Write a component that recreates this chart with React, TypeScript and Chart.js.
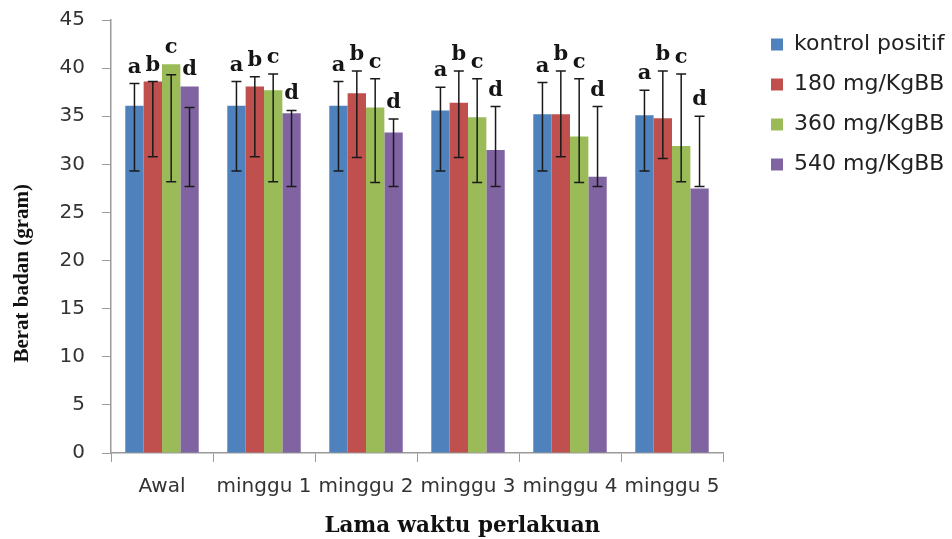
import React, { useEffect, useRef } from 'react';
import { Chart, registerables } from 'chart.js';

Chart.register(...registerables);

// ---------- data ----------
const categories = ['Awal', 'minggu 1', 'minggu 2', 'minggu 3', 'minggu 4', 'minggu 5'];
const seriesNames = ['kontrol positif', '180 mg/KgBB', '360 mg/KgBB', '540 mg/KgBB'];
const seriesColors = ['#4F81BD', '#C0504D', '#9BBB59', '#8064A2'];

const kontrolPositif = [36.1, 36.1, 36.1, 35.6, 35.2, 35.1];
const dosis180 = [38.6, 38.1, 37.4, 36.4, 35.2, 34.8];
const dosis360 = [40.4, 37.7, 35.9, 34.9, 32.9, 31.9];
const dosis540 = [38.1, 35.3, 33.3, 31.5, 28.7, 27.5];

const kontrolHigh = [38.4, 38.6, 38.6, 38.0, 38.5, 37.7];
const kontrolLow = [29.3, 29.3, 29.3, 29.3, 29.3, 29.3];
const dosis180High = [38.6, 39.1, 39.7, 39.7, 39.7, 39.7];
const dosis180Low = [30.8, 30.8, 30.7, 30.7, 30.8, 30.6];
const dosis360High = [39.3, 39.4, 38.9, 38.9, 38.9, 39.4];
const dosis360Low = [28.2, 28.2, 28.1, 28.1, 28.1, 28.2];
const dosis540High = [35.9, 35.6, 34.7, 36.0, 36.0, 35.0];
const dosis540Low = [27.7, 27.7, 27.7, 27.7, 27.7, 27.7];

const significanceLetters = ['a', 'b', 'c', 'd'];

const yMin = 0;
const yMax = 45;
const yStep = 5;

const xTitle = 'Lama waktu perlakuan';
const yTitle = 'Berat badan (gram)';

const seriesValues = [kontrolPositif, dosis180, dosis360, dosis540];
const seriesHigh = [kontrolHigh, dosis180High, dosis360High, dosis540High];
const seriesLow = [kontrolLow, dosis180Low, dosis360Low, dosis540Low];

// ---------- plugin for error bars, letters, titles, legend placement ----------
const extrasPlugin = {
  id: 'extras',
  beforeLayout(chart: any) {
    const lg = chart.legend;
    if (lg && !lg.__patched) {
      const origFit = lg.fit;
      lg.fit = function () {
        origFit.call(this);
        this.width = 229;
      };
      lg.__patched = true;
    }
  },
  afterLayout(chart: any) {
    const lg = chart.legend;
    const ca = chart.chartArea;
    if (lg && ca) {
      lg.left = ca.right + 30;
      lg.right = lg.left + lg.width;
      lg.top = ca.top - 4.5;
      lg.bottom = lg.top + lg.height;
    }
  },
  afterDatasetsDraw(chart: any) {
    const ctx = chart.ctx;
    const yScale = chart.scales.y;
    ctx.save();
    for (let i = 0; i < seriesValues.length; i++) {
      const meta = chart.getDatasetMeta(i);
      meta.data.forEach((el: any, j: number) => {
        const x = el.x;
        const yh = yScale.getPixelForValue(seriesHigh[i][j]);
        const yl = yScale.getPixelForValue(seriesLow[i][j]);
        ctx.strokeStyle = '#1a1a1a';
        ctx.lineWidth = 1.5;
        ctx.beginPath();
        ctx.moveTo(x, yh);
        ctx.lineTo(x, yl);
        ctx.moveTo(x - 5, yh);
        ctx.lineTo(x + 5, yh);
        ctx.moveTo(x - 5, yl);
        ctx.lineTo(x + 5, yl);
        ctx.stroke();
        const topPx = Math.min(el.y, yh);
        ctx.fillStyle = '#151515';
        ctx.font = 'bold 21px "DejaVu Serif"';
        ctx.textAlign = 'center';
        ctx.textBaseline = 'alphabetic';
        ctx.fillText(significanceLetters[i], x, topPx - 11);
      });
    }
    ctx.restore();
  },
  afterDraw(chart: any) {
    const ctx = chart.ctx;
    const ca = chart.chartArea;
    ctx.save();
    ctx.fillStyle = '#111';
    ctx.textAlign = 'center';
    ctx.textBaseline = 'middle';
    ctx.font = 'bold 21.5px "DejaVu Serif"';
    ctx.fillText(xTitle, ca.left + (ca.right - ca.left) * 0.574, ca.bottom + 73);
    ctx.translate(ca.left - 88, ca.top + (ca.bottom - ca.top) * 0.585);
    ctx.rotate(-Math.PI / 2);
    ctx.font = 'bold 21px "Liberation Serif"';
    ctx.fillText(yTitle, 0, 0);
    ctx.restore();
  },
};

export default function App() {
  const canvasRef = useRef<HTMLCanvasElement | null>(null);

  useEffect(() => {
    document.body.style.margin = '0';
    const canvas = canvasRef.current;
    if (!canvas) return;
    const axisColor = '#9a9a9a';
    const tickColor = '#333333';
    const chart = new Chart(canvas, {
      type: 'bar',
      data: {
        labels: categories,
        datasets: seriesNames.map((name, i) => ({
          label: name,
          data: seriesValues[i],
          backgroundColor: seriesColors[i],
          borderWidth: 0,
          categoryPercentage: 0.72,
          barPercentage: 1.0,
        })),
      },
      options: {
        responsive: false,
        animation: false,
        layout: { padding: { top: 20, left: 0, right: 0, bottom: 0 } },
        plugins: {
          tooltip: { enabled: false },
          legend: {
            display: true,
            position: 'right',
            align: 'start',
            labels: {
              boxWidth: 12,
              boxHeight: 12,
              padding: 18,
              color: '#222',
              font: { family: '"DejaVu Sans"', size: 22 },
            },
          },
        },
        scales: {
          x: {
            grid: {
              display: true,
              drawOnChartArea: false,
              drawTicks: true,
              tickLength: 9,
              color: axisColor,
              offset: true,
            },
            border: { color: axisColor, width: 1.5 },
            ticks: {
              color: tickColor,
              font: { family: '"DejaVu Sans"', size: 20 },
              padding: 13,
              maxRotation: 0,
              autoSkip: false,
            },
            afterFit: (s: any) => {
              s.height = 86;
            },
          },
          y: {
            min: yMin,
            max: yMax,
            grid: {
              display: true,
              drawOnChartArea: false,
              drawTicks: true,
              tickLength: 9,
              color: axisColor,
            },
            border: { color: axisColor, width: 1.5 },
            ticks: {
              stepSize: yStep,
              color: tickColor,
              font: { family: '"DejaVu Sans"', size: 20 },
              padding: 17,
            },
            afterFit: (s: any) => {
              s.width = 111;
              s.paddingTop = 0;
              s.paddingBottom = 0;
            },
          },
        },
      },
      plugins: [extrasPlugin],
    } as any);
    return () => chart.destroy();
  }, []);

  return (
    <div style={{ position: 'absolute', left: 0, top: 0, width: 952, height: 539, background: '#fff' }}>
      <canvas ref={canvasRef} width={952} height={539} />
    </div>
  );
}
